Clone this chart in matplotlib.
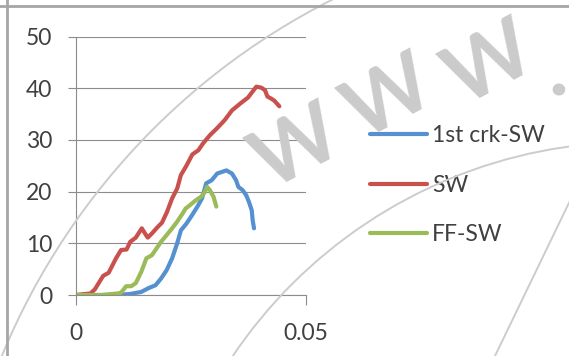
import matplotlib
matplotlib.use('Agg')
import matplotlib.pyplot as plt
from matplotlib.patches import Ellipse
from matplotlib.lines import Line2D

# data
sw_x = [0, 0.00315, 0.0041, 0.0059, 0.0071, 0.0087, 0.0098, 0.0110, 0.0118, 0.0130,
        0.0143, 0.0150, 0.0156, 0.0165, 0.0177, 0.0187, 0.0198, 0.0209, 0.0220, 0.0228,
        0.0240, 0.0253, 0.0266, 0.0276, 0.0291, 0.0306, 0.0323, 0.0339, 0.0358, 0.0374,
        0.0386, 0.0392, 0.0403, 0.0411, 0.0416, 0.0424, 0.0431, 0.0442]
sw_y = [0, 0.3, 1.1, 3.7, 4.3, 7.1, 8.7, 8.8, 10.3, 11.1,
        12.9, 11.9, 11.1, 11.9, 13.1, 14.0, 16.1, 18.7, 20.6, 23.2,
        25.0, 27.2, 28.0, 29.3, 30.9, 32.2, 33.8, 35.7, 37.1, 38.2,
        39.6, 40.3, 40.1, 39.6, 38.4, 38.0, 37.6, 36.5]

crk_x = [0, 0.0063, 0.0087, 0.0118, 0.0142, 0.0157, 0.0173, 0.0185, 0.0197, 0.0209,
         0.0220, 0.0228, 0.0240, 0.0252, 0.0264, 0.0274, 0.0283, 0.0295, 0.0307, 0.0327,
         0.0339, 0.0348, 0.0353, 0.0362, 0.0370, 0.0376, 0.0382, 0.0384, 0.0387]
crk_y = [0, 0, 0, 0.2, 0.6, 1.3, 1.9, 3.2, 4.8, 7.1,
         10.0, 12.5, 13.8, 15.4, 17.1, 18.7, 21.6, 22.2, 23.5, 24.1,
         23.5, 22.2, 20.9, 20.3, 19.3, 18.0, 16.4, 14.5, 12.9]

ff_x = [0, 0.0055, 0.0091, 0.0098, 0.0109, 0.0120, 0.0130, 0.0142, 0.0153, 0.0165,
        0.0175, 0.0185, 0.0197, 0.0209, 0.0220, 0.0232, 0.0238, 0.0248, 0.0260, 0.0272,
        0.0280, 0.0285, 0.0291, 0.0299, 0.0305]
ff_y = [0, 0, 0.3, 0.45, 1.7, 1.7, 2.3, 4.5, 7.1, 7.7,
        9.0, 10.3, 11.6, 12.9, 14.2, 15.8, 16.7, 17.4, 18.3, 19.0,
        19.9, 20.9, 20.3, 19.0, 17.1]

series_labels = ['1st crk-SW', 'SW', 'FF-SW']
series_colors = ['#5590d0', '#c9514d', '#9bbb59']
y_ticks = [0, 10, 20, 30, 40, 50]
x_ticks = [0, 0.05]
x_ticklabels = ['0', '0.05']

W, H = 569, 356
plt.rcParams['font.family'] = ['Lato', 'DejaVu Sans']
fig = plt.figure(figsize=(W / 100, H / 100), dpi=100)

def px(x, y):
    return x / W, 1 - y / H

# watermark and frame (background decoration)
for (cx, cy, r) in [(646, 622, 697), (635, 627, 485)]:
    fig.patches.append(Ellipse(px(cx, cy), 2 * r / W, 2 * r / H, transform=fig.transFigure,
                               fill=False, ec='#cccccc', lw=1.4, zorder=0))
fig.lines.append(Line2D([495 / W, 580 / W], [1 - 356 / H, 1 - 180 / H], transform=fig.transFigure,
                        color='#cccccc', lw=1.4, zorder=0))
for (cx, cy) in [(297, 150), (389, 100), (490, 66)]:
    fig.text(*px(cx, cy), 'W', fontsize=60, fontweight='bold', color='#cbcbcb', rotation=28,
             ha='center', va='center', rotation_mode='anchor', zorder=0)
fig.text(*px(558, 96), '.', fontsize=60, fontweight='bold', color='#cbcbcb',
         ha='center', va='baseline', zorder=0)
fig.lines.append(Line2D([0, 1], [1 - 6 / H, 1 - 6 / H], transform=fig.transFigure, color='#a6a6a6', lw=2))
fig.lines.append(Line2D([7 / W, 7 / W], [0, 1], transform=fig.transFigure, color='#a6a6a6', lw=2))

ax = fig.add_axes([76 / W, 1 - 295 / H, 230 / W, 258.5 / H])
ax.patch.set_alpha(0)

xs = [crk_x, sw_x, ff_x]
ys = [crk_y, sw_y, ff_y]
for x, y, lab, col in zip(xs, ys, series_labels, series_colors):
    ax.plot(x, y, color=col, lw=3.0, label=lab, solid_capstyle='round', solid_joinstyle='round')

ax.set_xlim(0, 0.05)
ax.set_ylim(0, 50)
ax.set_yticks(y_ticks)
ax.set_xticks(x_ticks)
ax.set_xticklabels(x_ticklabels)
ax.grid(which='major', axis='y', color='#8c8c8c', lw=0.8)
ax.set_axisbelow(True)
for dir in ['right', 'top']:
    ax.spines[dir].set_visible(False)
for dir in ['left', 'bottom']:
    ax.spines[dir].set_color('#8c8c8c')
    ax.spines[dir].set_linewidth(0.8)
ax.tick_params(axis='y', length=6, width=0.8, color='#8c8c8c', pad=11, labelsize=16.5, labelcolor='#404040')
ax.tick_params(axis='x', length=7.5, width=0.8, color='#8c8c8c', pad=13, labelsize=16.5, labelcolor='#404040')

leg = ax.legend(loc='upper left', bbox_to_anchor=(370 / W, 1 - 125 / H), bbox_transform=fig.transFigure,
                frameon=False, fontsize=16.5, handlelength=2.5, handletextpad=0.2, labelspacing=1.25,
                borderaxespad=0, borderpad=0)
for t in leg.get_texts():
    t.set_color('#404040')

fig.savefig('out.png', dpi=100)
